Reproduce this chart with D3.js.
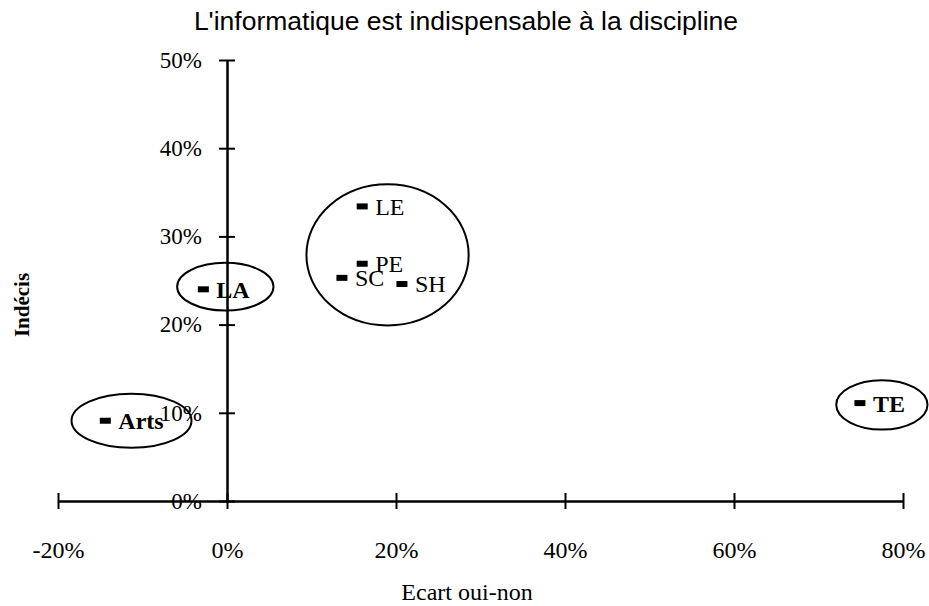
<!DOCTYPE html>
<html>
<head>
<meta charset="utf-8">
<script src="https://cdn.jsdelivr.net/npm/d3@7"></script>
<style>
  body { margin: 0; background: #fff; }
  svg { display: block; }
  .tick text { font-family: "Liberation Serif", "Times New Roman", serif; fill: #000; }
</style>
</head>
<body>
<div id="chart"></div>
<script>
// Ecart oui-non (x) vs Indécis (y), par discipline
const groups   = ['Arts', 'LA', 'LE', 'PE', 'SC', 'SH', 'TE'];
const ecart    = [-14.4, -2.8, 16.0, 16.0, 13.6, 20.7, 74.9];
const indecis  = [9.1, 24.0, 33.4, 26.9, 25.3, 24.6, 11.1];
const boldLbl  = [true, true, false, false, false, false, true];

const xTicks = [-20, 0, 20, 40, 60, 80];
const yTicks = [0, 10, 20, 30, 40, 50];

// ellipses entourant les groupes (centre x, centre y, rayon x, rayon y en %)
const ringCx = [-11.3, -0.2, 19.0, 77.5];
const ringCy = [9.1, 24.3, 27.9, 10.9];
const ringRx = [7.1, 5.7, 9.6, 5.4];
const ringRy = [3.06, 2.7, 8.0, 2.8];

const W = 929, H = 606;
const serif = '"Liberation Serif", "Times New Roman", serif';
const svg = d3.select('#chart').append('svg')
    .attr('width', W).attr('height', H);

const x = d3.scaleLinear().domain([-20, 80]).range([58, 903]);
const y = d3.scaleLinear().domain([0, 50]).range([501, 60]);
const pct = d => d + '%';

// title
svg.append('text')
    .attr('x', 466).attr('y', 30)
    .attr('text-anchor', 'middle')
    .style('font-family', '"Liberation Sans", Arial, sans-serif')
    .style('font-size', '26.5px')
    .text("L'informatique est indispensable à la discipline");

// x axis (crosses at y = 0)
const xAxis = svg.append('g')
    .attr('transform', `translate(0,${y(0)})`)
    .call(d3.axisBottom(x).tickValues(xTicks).tickFormat(pct).tickSizeOuter(0));
xAxis.select('.domain').attr('stroke', '#000').attr('stroke-width', 2.5);
xAxis.selectAll('.tick line').attr('y1', -8).attr('y2', 8).attr('stroke-width', 2);
xAxis.selectAll('.tick text')
    .attr('y', 49).attr('dy', '0.32em')
    .style('font-size', '24px');

// y axis (crosses at x = 0)
const yAxis = svg.append('g')
    .attr('transform', `translate(${x(0)},0)`)
    .call(d3.axisLeft(y).tickValues(yTicks).tickFormat(pct).tickSizeOuter(0));
yAxis.select('.domain').attr('stroke', '#000').attr('stroke-width', 2.5);
yAxis.selectAll('.tick line').attr('x1', -8).attr('x2', 8).attr('stroke-width', 2);
yAxis.selectAll('.tick text')
    .attr('x', -25).attr('dy', '0.32em')
    .style('font-size', '23px');

// axis titles
svg.append('text')
    .attr('x', 467).attr('y', 600)
    .attr('text-anchor', 'middle')
    .style('font-family', serif)
    .style('font-size', '24px')
    .text('Ecart oui-non');

svg.append('text')
    .attr('transform', `translate(22,305) rotate(-90)`)
    .attr('text-anchor', 'middle')
    .attr('dy', '0.35em')
    .style('font-family', serif)
    .style('font-size', '21px')
    .style('font-weight', 'bold')
    .text('Indécis');

// ellipses
svg.append('g').selectAll('ellipse')
    .data(ringCx)
    .join('ellipse')
    .attr('cx', d => x(d))
    .attr('cy', (d, i) => y(ringCy[i]))
    .attr('rx', (d, i) => x(ringRx[i]) - x(0))
    .attr('ry', (d, i) => y(0) - y(ringRy[i]))
    .attr('fill', 'none')
    .attr('stroke', '#000')
    .attr('stroke-width', 2);

// points: dash markers + labels
const pts = svg.append('g').selectAll('g')
    .data(groups)
    .join('g')
    .attr('transform', (d, i) => `translate(${x(ecart[i])},${y(indecis[i])})`);

pts.append('rect')
    .attr('x', -5.5).attr('y', -3)
    .attr('width', 11).attr('height', 6)
    .attr('fill', '#000');

pts.append('text')
    .attr('x', 13)
    .attr('dy', '0.35em')
    .style('font-family', serif)
    .style('font-size', '24px')
    .style('font-weight', (d, i) => boldLbl[i] ? 'bold' : 'normal')
    .text(d => d);
</script>
</body>
</html>
